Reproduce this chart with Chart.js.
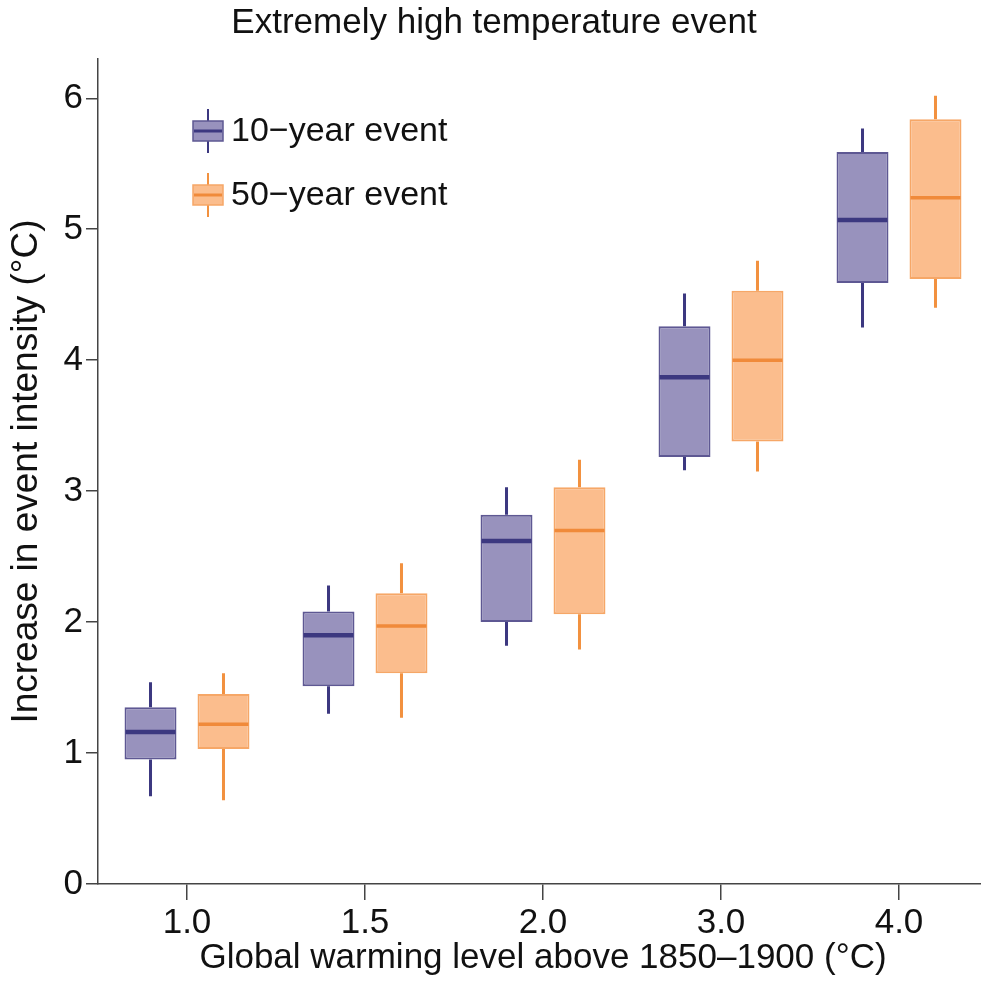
<!DOCTYPE html>
<html>
<head>
<meta charset="utf-8">
<script src="https://cdn.jsdelivr.net/npm/chart.js@4.4.0/dist/chart.umd.min.js"></script>
<style>
html,body{margin:0;padding:0;background:#fff;overflow:hidden;width:981px;height:983px;}
canvas{display:block;}
</style>
</head>
<body>
<canvas id="c" width="990" height="983"></canvas>
<script>
const categories = ['1.0', '1.5', '2.0', '3.0', '4.0'];
const seriesLabels = ['10\u2212year event', '50\u2212year event'];
// 10-year event
const min10 = [0.67, 1.30, 1.82, 3.16, 4.25];
const q1_10 = [0.95, 1.51, 2.00, 3.26, 4.59];
const med10 = [1.16, 1.90, 2.62, 3.87, 5.07];
const q3_10 = [1.35, 2.08, 2.82, 4.26, 5.59];
const max10 = [1.54, 2.28, 3.03, 4.51, 5.77];
// 50-year event
const min50 = [0.64, 1.27, 1.79, 3.15, 4.40];
const q1_50 = [1.03, 1.61, 2.06, 3.38, 4.62];
const med50 = [1.22, 1.97, 2.70, 4.00, 5.24];
const q3_50 = [1.45, 2.22, 3.03, 4.53, 5.84];
const max50 = [1.61, 2.45, 3.24, 4.76, 6.02];
const yTicks = [0, 1, 2, 3, 4, 5, 6];

const styles = [
  {fill: '#9892bd', border: '#5e5893', median: '#3c3880', whisker: '#3c3880', medW: 4.5},
  {fill: '#fbbd8d', border: '#f6a767', median: '#f08a3a', whisker: '#f2913f', medW: 3.5}
];
const stats = [
  {min: min10, q1: q1_10, med: med10, q3: q3_10, max: max10},
  {min: min50, q1: q1_50, med: med50, q3: q3_50, max: max50}
];

const FONT = "'Liberation Sans', Arial, Helvetica, sans-serif";

const boxPlugin = {
  id: 'boxExtras',
  beforeDatasetsDraw(chart) {
    const ctx = chart.ctx, y = chart.scales.y;
    ctx.save();
    stats.forEach((s, di) => {
      const meta = chart.getDatasetMeta(di);
      ctx.strokeStyle = styles[di].whisker;
      ctx.lineWidth = 3;
      meta.data.forEach((bar, i) => {
        ctx.beginPath();
        ctx.moveTo(bar.x, y.getPixelForValue(s.q3[i]));
        ctx.lineTo(bar.x, y.getPixelForValue(s.max[i]));
        ctx.moveTo(bar.x, y.getPixelForValue(s.q1[i]));
        ctx.lineTo(bar.x, y.getPixelForValue(s.min[i]));
        ctx.stroke();
      });
    });
    ctx.restore();
  },
  afterDatasetsDraw(chart) {
    const ctx = chart.ctx, y = chart.scales.y;
    ctx.save();
    stats.forEach((s, di) => {
      const meta = chart.getDatasetMeta(di);
      ctx.strokeStyle = styles[di].median;
      ctx.lineWidth = styles[di].medW;
      meta.data.forEach((bar, i) => {
        const py = y.getPixelForValue(s.med[i]);
        ctx.beginPath();
        ctx.moveTo(bar.x - bar.width / 2 + 1, py);
        ctx.lineTo(bar.x + bar.width / 2 - 1, py);
        ctx.stroke();
      });
    });
    // legend
    const lx = 208, ly = [131, 195];
    seriesLabels.forEach((lab, di) => {
      const st = styles[di], cy = ly[di];
      ctx.strokeStyle = st.whisker; ctx.lineWidth = 2;
      ctx.beginPath(); ctx.moveTo(lx, cy - 22); ctx.lineTo(lx, cy + 22); ctx.stroke();
      ctx.fillStyle = st.fill; ctx.fillRect(lx - 15, cy - 10, 30, 20);
      ctx.strokeStyle = st.border; ctx.lineWidth = 1.5; ctx.strokeRect(lx - 15, cy - 10, 30, 20);
      ctx.strokeStyle = st.median; ctx.lineWidth = 3;
      ctx.beginPath(); ctx.moveTo(lx - 14, cy); ctx.lineTo(lx + 14, cy); ctx.stroke();
      ctx.fillStyle = '#111'; ctx.font = '34px ' + FONT;
      ctx.textAlign = 'left'; ctx.textBaseline = 'middle';
      ctx.fillText(lab, lx + 23, cy + 1);
    });
    ctx.restore();
  }
};

new Chart(document.getElementById('c'), {
  type: 'bar',
  data: {
    labels: categories,
    datasets: stats.map((s, di) => ({
      label: seriesLabels[di],
      data: s.q1.map((v, i) => [v, s.q3[i]]),
      backgroundColor: styles[di].fill,
      borderColor: styles[di].border,
      borderWidth: 2,
      borderSkipped: false,
      categoryPercentage: 0.82,
      barPercentage: 0.712
    }))
  },
  options: {
    responsive: false,
    animation: false,
    devicePixelRatio: 1,
    layout: {padding: {left: 0, right: 2, top: 0, bottom: 0}},
    plugins: {
      legend: {display: false},
      tooltip: {enabled: false},
      title: {
        display: true,
        text: 'Extremely high temperature event',
        color: '#111',
        font: {family: FONT, size: 35, weight: 'normal', lineHeight: 1.2},
        padding: {top: 2, bottom: 15}
      }
    },
    scales: {
      x: {
        type: 'category',
        grid: {display: true, drawOnChartArea: false, drawTicks: true, tickLength: 16, offset: false, color: '#444', lineWidth: 1.5},
        border: {display: true, color: '#444', width: 1.5},
        ticks: {color: '#111', font: {family: FONT, size: 35}, padding: 2, maxRotation: 0},
        title: {display: true, text: 'Global warming level above 1850\u20131900 (\u00b0C)', color: '#111',
                font: {family: FONT, size: 35, lineHeight: 1.2}, padding: {top: 0, bottom: 4}},
        afterFit(scale) { scale.height = 99; }
      },
      y: {
        type: 'linear',
        min: 0, max: 6.3,
        afterBuildTicks(scale) { scale.ticks = yTicks.map(v => ({value: v})); },
        grid: {display: true, drawOnChartArea: false, drawTicks: true, tickLength: 12, color: '#444', lineWidth: 1.5},
        border: {display: true, color: '#444', width: 1.5},
        ticks: {color: '#111', font: {family: FONT, size: 35}, padding: 3},
        title: {display: true, text: 'Increase in event intensity (\u00b0C)', color: '#111',
                font: {family: FONT, size: 37, lineHeight: 1.2}, padding: {top: 5, bottom: 0}},
        afterFit(scale) { scale.width = 98; }
      }
    }
  },
  plugins: [boxPlugin]
});
</script>
</body>
</html>
